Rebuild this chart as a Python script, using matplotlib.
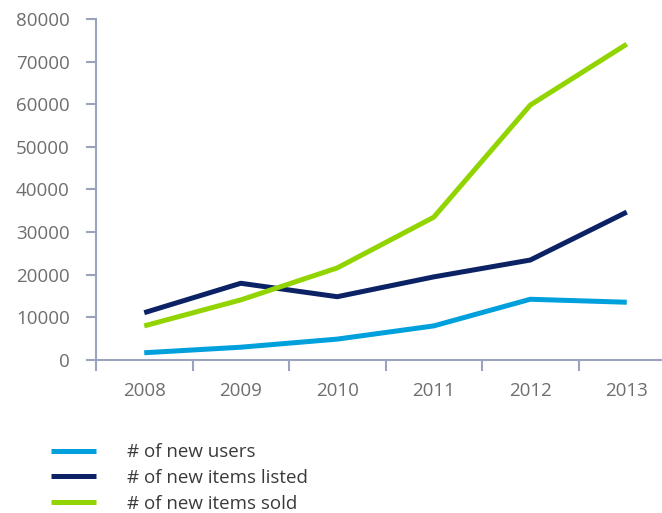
import matplotlib

matplotlib.use("Agg")
import matplotlib.pyplot as plt

years = ["2008", "2009", "2010", "2011", "2012", "2013"]
new_users = [1700, 3000, 4900, 8000, 14250, 13550]
items_listed = [11100, 18000, 14850, 19500, 23450, 34700]
items_sold = [8000, 14100, 21600, 33500, 59800, 74100]
y_ticks = [0, 10000, 20000, 30000, 40000, 50000, 60000, 70000, 80000]

AXIS = "#9aa3bb"
TEXT = "#6e6e6e"

plt.rcParams["font.family"] = ["Open Sans", "DejaVu Sans"]

W, H = 662, 513
fig = plt.figure(figsize=(W / 100, H / 100), dpi=100)
ax = fig.add_axes([96 / W, (H - 360) / H, (675 - 96) / W, (360 - 19) / H])

x = list(range(len(years)))
series = [
    (new_users, "#00a0dc", "# of new users"),
    (items_listed, "#0b2265", "# of new items listed"),
    (items_sold, "#92d400", "# of new items sold"),
]
for values, color, label in series:
    ax.plot(x, values, color=color, linewidth=3.6, label=label, solid_capstyle="butt")

ax.set_xlim(-0.5, len(years) - 0.5)
ax.set_ylim(0, 80000)
ax.set_yticks(y_ticks)
ax.set_yticklabels([str(v) for v in y_ticks])
ax.set_xticks([i - 0.5 for i in range(len(years) + 1)])
ax.set_xticklabels([])
ax.set_xticks(x, minor=True)
ax.set_xticklabels(years, minor=True)

for side in ["top", "right"]:
    ax.spines[side].set_visible(False)
for side in ["left", "bottom"]:
    ax.spines[side].set_color(AXIS)
    ax.spines[side].set_linewidth(1.5)

ax.tick_params(axis="y", colors=AXIS, length=7, width=1.5, labelcolor=TEXT, labelsize=13.5, pad=12)
ax.tick_params(axis="x", which="major", colors=AXIS, length=8, width=1.5)
ax.tick_params(axis="x", which="minor", length=0, labelcolor=TEXT, labelsize=13.5, pad=16)

handles, labels = ax.get_legend_handles_labels()
fig.legend(
    handles, labels,
    loc="center left",
    bbox_to_anchor=(51 / W, (H - 478) / H),
    frameon=False,
    fontsize=13.5,
    labelcolor="#3a3a3a",
    handlelength=2.4,
    handletextpad=1.65,
    labelspacing=0.42,
    borderpad=0,
    borderaxespad=0,
)

fig.savefig("out.png", dpi=100, facecolor="white")
